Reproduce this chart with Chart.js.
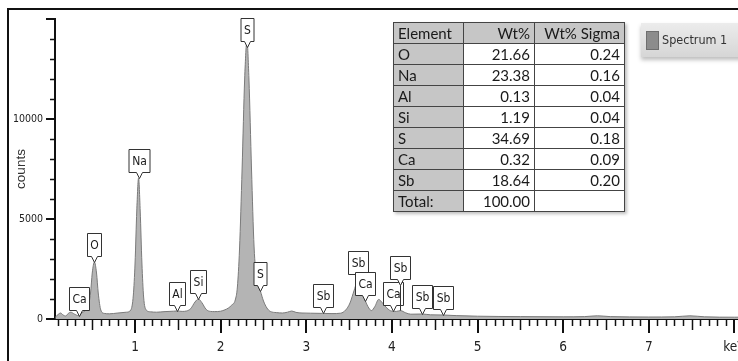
<!DOCTYPE html>
<html>
<head>
<meta charset="utf-8">
<script src="https://cdn.jsdelivr.net/npm/chart.js@4.4.1/dist/chart.umd.min.js"></script>
<style>
    html, body { margin: 0; padding: 0; background: #fff; overflow: hidden; }
    #wrap { position: relative; width: 738px; height: 361px; overflow: hidden; }
    #frame { position: absolute; left: 7px; top: 8px; width: 800px; height: 400px;
             border-left: 2px solid #111; border-top: 2px solid #111; }
    #chart-box { position: absolute; left: 0; top: 0; width: 760px; height: 361px; }
    #results { position: absolute; left: 393px; top: 22px; border-collapse: collapse;
               font-family: Lato, "Open Sans", sans-serif; font-size: 15px; color: #1a1a1a;
               background: #fff; box-shadow: 2px 2px 3px rgba(0,0,0,0.25); }
    #results td { border: 1px solid #444; height: 20px; padding: 0 4px; line-height: 20px; }
    #results td.grey { background: #c6c6c6; }
    #results td.num { text-align: right; }
    #legend { position: absolute; left: 641px; top: 23px; width: 120px; height: 34px;
              background: linear-gradient(#ececec, #d6d6d6); box-shadow: 0 3px 4px rgba(0,0,0,0.25);
              font-family: "Liberation Sans Narrow", "DejaVu Sans Condensed", Roboto, sans-serif;
              font-size: 12.5px; color: #333; }
    #legend .sw { position: absolute; left: 5px; top: 8px; width: 11px; height: 17px;
                  background: #8c8c8c; border: 1px solid #6e6e6e; }
    #legend .txt { position: absolute; left: 21px; top: 9px; }
</style>
</head>
<body>
<div id="wrap">
    <div id="chart-box"><canvas id="spectrum-chart" width="760" height="361"></canvas></div>
    <div id="frame"></div>
    <table id="results"></table>
    <div id="legend"></div>
</div>
<script>
// Spectrum trace (energy in keV, counts)
const spectrumKeV = [0.07, 0.10, 0.13, 0.16, 0.19, 0.22, 0.25, 0.29, 0.34, 0.38, 0.42, 0.45, 0.48, 0.50, 0.525, 0.55, 0.57, 0.60, 0.64, 0.70,
    0.80, 0.90, 0.95, 0.98, 1.00, 1.02, 1.041, 1.06, 1.08, 1.10, 1.13, 1.18, 1.25, 1.35, 1.45, 1.49, 1.55, 1.60, 1.65, 1.70,
    1.74, 1.78, 1.83, 1.88, 1.93, 2.00, 2.05, 2.09, 2.13, 2.17, 2.195, 2.22, 2.25, 2.28, 2.307, 2.33, 2.36, 2.39, 2.42, 2.464,
    2.50, 2.54, 2.58, 2.65, 2.72, 2.78, 2.83, 2.88, 2.95, 3.05, 3.19, 3.30, 3.40, 3.46, 3.51, 3.56, 3.604, 3.64, 3.69, 3.73,
    3.76, 3.80, 3.845, 3.89, 3.94, 4.00, 4.05, 4.10, 4.16, 4.22, 4.35, 4.45, 4.60, 4.75, 5.0, 5.5, 6.0, 6.25, 6.4, 6.55,
    7.0, 7.3, 7.48, 7.65, 8.0, 8.1];
const spectrumCounts = [100, 220, 300, 200, 150, 280, 340, 250, 170, 320, 420, 600, 1300, 2300, 2850, 2300, 1300, 450, 280, 260,
    300, 340, 450, 1200, 2800, 5400, 7050, 5400, 2800, 1100, 450, 360, 340, 370, 390, 400, 380, 400, 520, 850,
    1000, 820, 480, 380, 370, 390, 460, 550, 700, 950, 1600, 3500, 7500, 12000, 13900, 12000, 7500, 3600, 2000, 1400,
    900, 550, 380, 320, 300, 340, 400, 330, 300, 290, 280, 270, 290, 450, 800, 1450, 1950, 1550, 900, 550,
    420, 620, 980, 800, 550, 390, 380, 420, 310, 240, 250, 210, 200, 170, 140, 120, 110, 120, 160, 120,
    100, 110, 160, 110, 90, 90];

// Axis ticks
const xTickValues = [1, 2, 3, 4, 5, 6, 7, 8];
const xTickLabels = ['1', '2', '3', '4', '5', '6', '7', 'keV'];
const yTickValues = [0, 5000, 10000, 15000];
const yTickLabels = ['0', '5000', '10000', ''];

// Peak markers
const peakNames = ['Ca', 'O', 'Na', 'Al', 'Si', 'S', 'S', 'Sb', 'Sb', 'Ca', 'Ca', 'Sb', 'Sb', 'Sb'];
const peakKeV = [0.34, 0.525, 1.041, 1.486, 1.74, 2.307, 2.464, 3.19, 3.604, 3.69, 4.01, 4.10, 4.35, 4.60];
const peakCounts = [170, 2850, 7050, 400, 1000, 13600, 1400, 280, 1950, 900, 390, 420, 250, 200];

// Quantification table
const tableElements = ['O', 'Na', 'Al', 'Si', 'S', 'Ca', 'Sb'];
const tableWt = ['21.66', '23.38', '0.13', '1.19', '34.69', '0.32', '18.64'];
const tableSigma = ['0.24', '0.16', '0.04', '0.04', '0.18', '0.09', '0.20'];
const tableTotal = '100.00';

const narrowFont = '"Liberation Sans Narrow", "DejaVu Sans Condensed", Roboto, sans-serif';

// leader length below the box, only the raised Sb label differs
const leadLength = peakNames.map((n, i) => (i === 11 ? 32 : 6));

const spectrumMarks = {
    id: 'spectrumMarks',
    afterDatasetsDraw(chart) {
        const { ctx, scales: { x, y } } = chart;
        ctx.save();
        ctx.strokeStyle = '#111';
        ctx.lineWidth = 1.5;
        // minor y ticks every 1000
        for (let v = 1000; v < 15000; v += 1000) {
            if (v % 5000 === 0) continue;
            const py = Math.round(y.getPixelForValue(v)) + 0.5;
            ctx.beginPath();
            ctx.moveTo(x.left - 5, py);
            ctx.lineTo(x.left, py);
            ctx.stroke();
        }
        // minor x ticks every 0.1 keV, longer at the half
        for (let i = 1; i <= 80; i++) {
            if (i % 10 === 0) continue;
            const px = Math.round(x.getPixelForValue(i / 10)) + 0.5;
            const len = i % 5 === 0 ? 11 : 7;
            ctx.beginPath();
            ctx.moveTo(px, y.bottom);
            ctx.lineTo(px, y.bottom + len);
            ctx.stroke();
        }

        // peak labels
        ctx.font = '12px ' + narrowFont;
        ctx.textAlign = 'center';
        ctx.textBaseline = 'middle';
        ctx.lineWidth = 1;
        peakNames.forEach((name, i) => {
            const px = Math.round(x.getPixelForValue(peakKeV[i])) + 0.5;
            const tip = y.getPixelForValue(peakCounts[i]);
            const lead = leadLength[i];
            const w = Math.round(ctx.measureText(name).width + 6);
            const h = 23;
            const bottom = Math.round(tip - lead) + 0.5;
            const top = bottom - h;
            const pointer = Math.min(lead, 6);
            ctx.beginPath();
            ctx.moveTo(px - w / 2, top);
            ctx.lineTo(px + w / 2, top);
            ctx.lineTo(px + w / 2, bottom);
            ctx.lineTo(px + 3, bottom);
            ctx.lineTo(px, bottom + pointer);
            ctx.lineTo(px - 3, bottom);
            ctx.lineTo(px - w / 2, bottom);
            ctx.closePath();
            ctx.fillStyle = '#fff';
            ctx.fill();
            ctx.strokeStyle = '#333';
            ctx.stroke();
            if (lead > pointer) {
                ctx.beginPath();
                ctx.moveTo(px, bottom + pointer);
                ctx.lineTo(px, tip);
                ctx.stroke();
            }
            ctx.fillStyle = '#1a1a1a';
            ctx.fillText(name, px, top + h / 2 + 1);
        });
        ctx.restore();
    }
};

const ctx = document.getElementById('spectrum-chart').getContext('2d');
const spectrumChart = new Chart(ctx, {
    type: 'line',
    data: {
        datasets: [{
            label: 'Spectrum 1',
            data: spectrumKeV.map((e, i) => ({ x: e, y: spectrumCounts[i] })),
            borderColor: '#7a7a7a',
            borderWidth: 1,
            backgroundColor: '#b4b4b4',
            fill: 'origin',
            pointRadius: 0,
            cubicInterpolationMode: 'monotone'
        }]
    },
    options: {
        responsive: false,
        animation: false,
        layout: { padding: { left: 0, right: 17, top: 19, bottom: 0 } },
        plugins: {
            legend: { display: false },
            tooltip: { enabled: false }
        },
        scales: {
            x: {
                type: 'linear',
                min: 0.065,
                max: 8.1,
                afterBuildTicks: scale => { scale.ticks = xTickValues.map(v => ({ value: v })); },
                afterFit: scale => { scale.height = 42; },
                border: { display: true, color: '#111', width: 2 },
                grid: { drawOnChartArea: false, drawTicks: true, tickLength: 14, tickColor: '#111', lineWidth: 2 },
                ticks: {
                    autoSkip: false,
                    maxRotation: 0,
                    padding: 6,
                    color: '#222',
                    font: { family: narrowFont, size: 13.5 },
                    callback: (value, index) => xTickLabels[index]
                }
            },
            y: {
                min: 0,
                max: 15000,
                afterBuildTicks: scale => { scale.ticks = yTickValues.map(v => ({ value: v })); },
                afterFit: scale => { scale.width = 55; },
                border: { display: true, color: '#111', width: 2 },
                grid: { drawOnChartArea: false, drawTicks: true, tickLength: 9, tickColor: '#111', lineWidth: 2 },
                ticks: {
                    padding: 3,
                    color: '#222',
                    font: { family: narrowFont, size: 10.5 },
                    callback: (value, index) => yTickLabels[index]
                },
                title: {
                    display: true,
                    text: 'counts',
                    color: '#333',
                    padding: { top: 13, bottom: 0 },
                    font: { family: 'Liberation Sans, sans-serif', size: 13.5 }
                }
            }
        }
    },
    plugins: [spectrumMarks]
});

// Results table
const table = document.getElementById('results');
let rows = '<tr><td class="grey">Element</td><td class="grey num">Wt%</td><td class="grey num">Wt% Sigma</td></tr>';
tableElements.forEach((el, i) => {
    rows += `<tr><td class="grey">${el}</td><td class="num">${tableWt[i]}</td><td class="num">${tableSigma[i]}</td></tr>`;
});
rows += `<tr><td class="grey">Total:</td><td class="num">${tableTotal}</td><td></td></tr>`;
table.innerHTML = rows;
table.querySelectorAll('tr').forEach(tr => {
    tr.children[0].style.width = '61px';
    tr.children[1].style.width = '62px';
    tr.children[2].style.width = '81px';
});

// Legend from the dataset
document.getElementById('legend').innerHTML =
    `<div class="sw"></div><div class="txt">${spectrumChart.data.datasets[0].label}</div>`;
</script>
</body>
</html>
